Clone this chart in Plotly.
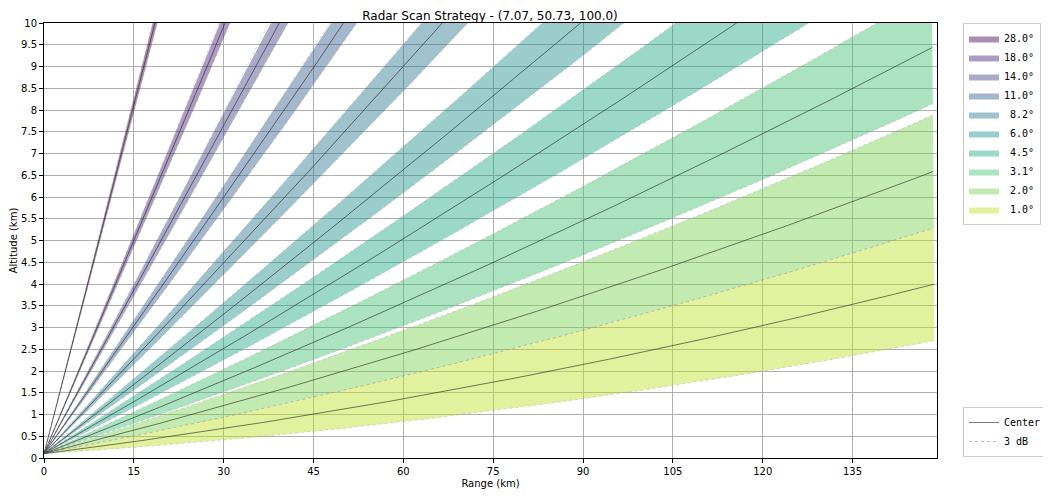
import numpy as np
import plotly.graph_objects as go

# ---- data ----
elevations = [1.0, 2.0, 3.1, 4.5, 6.0, 8.2, 11.0, 14.0, 18.0, 28.0]
beam_colors = ["#bddf26", "#7ad151", "#44bf70", "#22a884", "#21918c",
               "#2a788e", "#355f8d", "#414487", "#482475", "#440154"]
beam_width_deg = 1.0
site_lon, site_lat, site_alt_m = 7.07, 50.73, 100.0
max_range_km = 148.7
x_tick_vals = [0, 15, 30, 45, 60, 75, 90, 105, 120, 135]
y_tick_vals = [0, 0.5, 1, 1.5, 2, 2.5, 3, 3.5, 4, 4.5, 5, 5.5, 6, 6.5, 7,
               7.5, 8, 8.5, 9, 9.5, 10]
y_tick_text = ["0", "0.5", "1", "1.5", "2", "2.5", "3", "3.5", "4", "4.5", "5",
               "5.5", "6", "6.5", "7", "7.5", "8", "8.5", "9", "9.5", "10"]

# ---- beam propagation (4/3 earth radius model) ----
R_eff = 4.0 / 3.0 * 6371.0
slant = np.linspace(0, max_range_km, 400)


def beam(elev_deg):
    """Return (ground distance, altitude) along the beam for one elevation."""
    th = np.deg2rad(elev_deg)
    h = np.sqrt(slant ** 2 + R_eff ** 2 + 2 * slant * R_eff * np.sin(th)) - R_eff
    s = R_eff * np.arcsin(slant * np.cos(th) / (R_eff + h))
    return s, h + site_alt_m / 1000.0


def rgba(hexc, a):
    h = hexc.lstrip("#")
    r, g, b = int(h[0:2], 16), int(h[2:4], 16), int(h[4:6], 16)
    return f"rgba({r},{g},{b},{a})"


fig = go.Figure()

# fills (legend top -> bottom: highest elevation first)
for elev, col in sorted(zip(elevations, beam_colors), key=lambda t: -t[0]):
    s_lo, h_lo = beam(elev - beam_width_deg / 2)
    s_hi, h_hi = beam(elev + beam_width_deg / 2)
    xs = np.concatenate([s_lo, s_hi[::-1]])
    ys = np.concatenate([h_lo, h_hi[::-1]])
    label = f"{elev:4.1f}°".replace(" ", "\u00a0")
    fig.add_trace(go.Scatter(
        x=xs, y=ys, fill="toself", fillcolor=rgba(col, 0.45),
        line=dict(width=0), mode="lines", name=label,
        legend="legend", hoverinfo="skip"))

# 3 dB edges and centre lines
first_c = True
for elev in elevations:
    for edge in (elev - beam_width_deg / 2, elev + beam_width_deg / 2):
        s_e, h_e = beam(edge)
        fig.add_trace(go.Scatter(
            x=s_e, y=h_e, mode="lines",
            line=dict(color="rgba(150,150,150,0.6)", width=0.6, dash="dot"),
            name="3\u00a0dB", legend="legend2", showlegend=False,
            legendgroup="edge", hoverinfo="skip"))
    s_c, h_c = beam(elev)
    fig.add_trace(go.Scatter(
        x=s_c, y=h_c, mode="lines",
        line=dict(color="rgba(30,30,30,0.85)", width=0.7),
        name="Center", legend="legend2", showlegend=first_c,
        legendgroup="center", hoverinfo="skip"))
    first_c = False

fig.add_trace(go.Scatter(
    x=[None], y=[None], mode="lines",
    line=dict(color="rgba(150,150,150,0.8)", width=0.8, dash="dot"),
    name="3\u00a0dB", legend="legend2", legendgroup="edge", showlegend=True))

axis_common = dict(
    showgrid=True, gridcolor="#b0b0b0", gridwidth=1,
    showline=True, linecolor="black", linewidth=1, mirror=True,
    ticks="outside", ticklen=4, tickcolor="black", tickwidth=1,
    zeroline=False,
    tickfont=dict(family="DejaVu Sans", size=10, color="black"),
)

# the page body adds an 8 px offset; size the figure so the plot lands in place
W, H = 1043, 488

fig.update_layout(
    width=W, height=H,
    margin=dict(l=36, r=114, t=15, b=38, autoexpand=False),
    paper_bgcolor="white", plot_bgcolor="white",
    title=dict(text=f"Radar Scan Strategy - ({site_lon}, {site_lat}, {site_alt_m})",
               x=482 / W, xanchor="center", y=1 - 8 / H, yanchor="middle",
               xref="container", yref="container",
               font=dict(family="DejaVu Sans", size=12, color="black")),
    xaxis=dict(range=[0, 149.1], tickvals=x_tick_vals, automargin=True,
               title=dict(text="Range (km)", standoff=3,
                          font=dict(family="DejaVu Sans", size=10, color="black")),
               **axis_common),
    yaxis=dict(range=[0, 10], tickvals=y_tick_vals, ticktext=y_tick_text,
               automargin=False,
               title=dict(text="Altitude (km)",
                          font=dict(family="DejaVu Sans", size=10, color="black")),
               **axis_common),
    legend=dict(xref="container", yref="container",
                x=955 / W, xanchor="left", y=1 - 15 / H, yanchor="top",
                font=dict(family="DejaVu Sans Mono", size=10, color="black"),
                bordercolor="#cccccc", borderwidth=1, bgcolor="white",
                tracegroupgap=0, itemwidth=30),
    legend2=dict(xref="container", yref="container",
                 x=955 / W, xanchor="left", y=1 - 449 / H, yanchor="bottom",
                 font=dict(family="DejaVu Sans Mono", size=10, color="black"),
                 bordercolor="#cccccc", borderwidth=1, bgcolor="white",
                 tracegroupgap=0, itemwidth=30),
    showlegend=True,
)

fig.write_html("out.html")
